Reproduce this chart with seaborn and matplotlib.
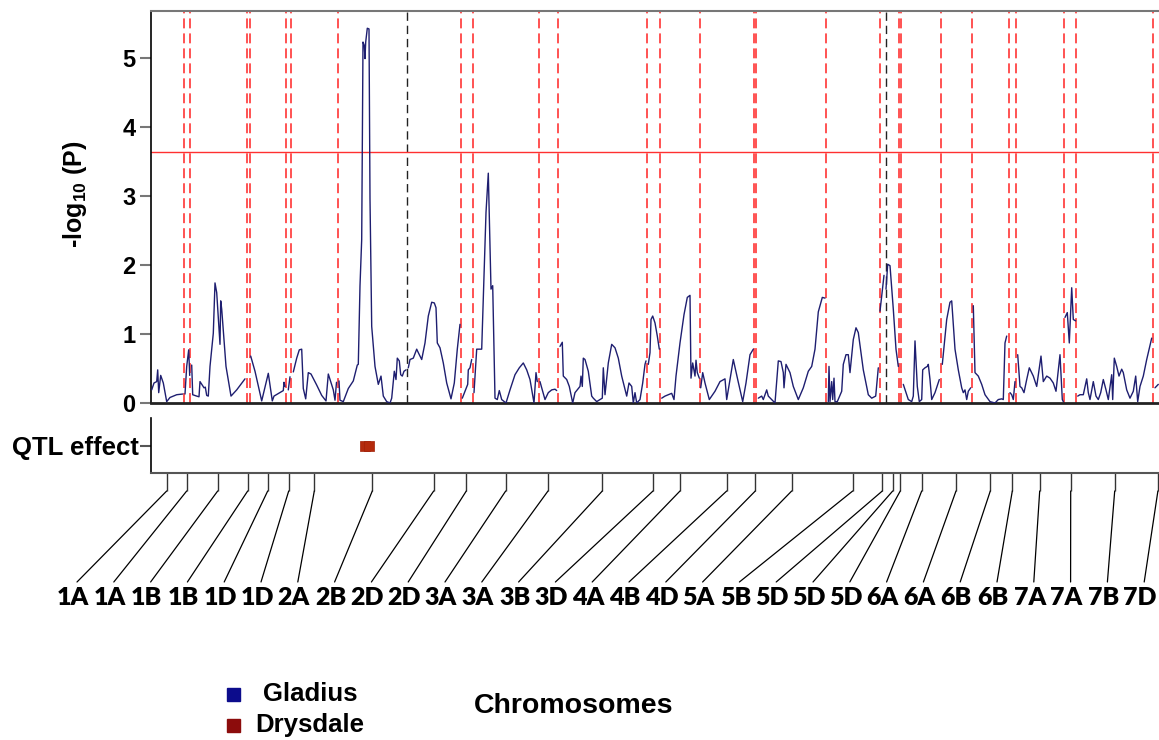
import numpy as np
import pandas as pd
import matplotlib
matplotlib.use("Agg")
import matplotlib.pyplot as plt
import seaborn as sns
from matplotlib.patches import ConnectionPatch, Rectangle
from matplotlib.transforms import blended_transform_factory

# ---------------- data ----------------
positions = [
    0.7, 3.0, 5.7, 6.7, 7.7, 9.7, 12.3, 15.7, 19.0, 25.7, 31.7,
    34.0, 35.7, 37.7, 38.7,
    40.7, 41.7, 45.7, 48.0, 49.0, 51.7, 53.0, 54.3, 55.7, 57.3, 59.0, 62.3, 64.0, 65.7, 69.0, 69.7, 70.7, 75.0, 80.0, 85.7, 94.0,
    99.7, 104.0, 110.7, 117.3, 121.3, 123.0, 132.3, 133.0, 134.0,
    137.3, 139.0,
    142.3, 145.7, 148.3, 150.7, 152.3, 154.7, 157.3, 160.0, 165.7, 170.7, 175.0, 177.3, 182.3, 184.0, 185.5,
    188.0, 189.0, 192.3, 197.3, 202.3, 206.3, 207.3, 209.0, 210.7, 212.0, 213.3, 214.0, 214.7, 216.3, 218.0, 219.0, 220.7,
    224.0, 227.3, 230.0, 232.3, 235.7, 239.0, 240.7, 243.3, 245.0, 246.3, 248.3, 249.7, 251.3, 253.0, 255.0,
    257.3, 259.0, 262.3, 265.7, 267.3, 270.7, 274.0, 277.3, 280.7, 283.3, 285.0, 286.3, 289.0, 292.3, 295.7, 300.0, 303.3, 306.3, 309.0,
    311.3, 314.0, 316.7, 317.3, 319.0, 320.7,
    323.0, 325.7, 330.7, 335.0, 337.3, 340.0, 341.7, 344.0, 346.3, 348.3, 350.7, 355.0, 359.0, 364.0, 368.3, 372.3, 375.7, 379.0, 383.0, 385.0, 386.3,
    389.0, 390.7, 394.0, 397.3, 400.7, 404.0, 405.7,
    409.0, 411.3, 412.3, 415.7, 418.3, 421.7, 424.0, 429.0, 430.0, 431.3, 432.3, 434.0, 437.3, 440.7, 442.3, 445.7, 449.0, 451.3, 452.3, 454.0,
    457.3, 460.7, 464.0, 467.3, 470.7, 475.7, 478.0, 480.7, 482.3, 484.0, 485.7, 489.0, 491.7, 494.0, 495.0,
    497.3, 499.0, 500.0, 501.7, 504.0, 506.3, 508.3,
    510.7, 514.0, 517.3, 520.7, 523.0, 525.0, 529.0, 533.0, 536.3, 539.0, 540.0, 541.7, 544.0, 545.0, 546.3, 548.3,
    549.7, 551.7, 554.0, 558.3, 564.0, 569.0, 574.0, 575.7, 579.0, 582.3, 586.7, 591.7, 595.0, 599.0, 602.3,
    607.3, 610.7, 612.3, 615.7, 617.3, 624.0, 627.3, 630.0, 632.3, 633.0, 635.0, 639.0, 642.3, 647.3, 652.3, 657.3, 660.7, 664.0, 667.3, 671.3, 674.0,
    677.3, 678.0, 679.0, 680.7, 681.7, 683.0, 684.0, 686.3, 690.7, 692.3, 695.0, 697.3, 699.0, 702.3, 705.0, 707.3, 712.3, 717.3, 720.7, 724.7, 727.3,
    729.0, 730.7, 733.0,
    735.0, 736.7, 739.0, 742.3, 745.0, 747.3,
    752.3, 757.3, 760.7, 762.3, 764.0, 766.3, 768.3, 770.7, 771.7, 774.0, 776.3, 777.3, 779.0, 780.7, 784.0, 788.3,
    791.3, 795.7, 799.0, 800.7, 804.0, 807.3, 810.7, 812.3, 814.0, 815.7, 817.3, 819.7,
    822.3, 824.0, 827.3, 830.7, 834.0, 839.0, 844.0, 847.3, 850.7, 852.3, 854.0, 855.7,
    859.0, 860.7, 862.3, 864.0,
    866.7, 869.0, 870.7, 873.0, 875.7, 878.3, 882.3, 885.7, 890.0, 892.3, 895.7, 899.0, 902.3, 905.0, 909.0, 911.3, 912.3,
    914.0, 916.3, 918.3, 920.7, 922.3, 924.7,
    926.7, 929.0, 932.3, 935.7, 937.3, 939.0, 942.3, 945.0, 947.3, 949.7, 952.3, 955.0, 957.3, 960.7, 961.7, 963.3, 965.7,
    968.0, 970.7, 972.3, 975.7, 979.0, 982.3, 984.7, 986.7, 989.0, 992.3, 995.7, 1000.7,
    1004.0, 1007.3,
]
lod = [
    0.19, 0.29, 0.31, 0.48, 0.15, 0.40, 0.29, 0.02, 0.08, 0.12, 0.13,
    0.13, 0.53, 0.77, 0.40,
    0.55, 0.12, 0.10, 0.09, 0.31, 0.25, 0.22, 0.23, 0.11, 0.10, 0.53, 1.01, 1.74, 1.60, 0.85, 1.48, 1.36, 0.53, 0.10, 0.19, 0.35,
    0.68, 0.46, 0.03, 0.43, 0.03, 0.10, 0.18, 0.30, 0.24,
    0.19, 0.38,
    0.45, 0.65, 0.77, 0.78, 0.21, 0.06, 0.44, 0.42, 0.26, 0.11, 0.03, 0.42, 0.19, 0.04, 0.30,
    0.32, 0.04, 0.02, 0.21, 0.32, 0.55, 0.56, 1.70, 2.37, 5.23, 5.18, 4.99, 5.23, 5.43, 5.42, 2.96, 1.11,
    0.53, 0.27, 0.39, 0.10, 0.02, 0.00, 0.07, 0.46, 0.34, 0.65, 0.61, 0.41, 0.39, 0.46, 0.48,
    0.51, 0.63, 0.65, 0.78, 0.73, 0.63, 0.87, 1.26, 1.46, 1.45, 1.38, 0.87, 0.80, 0.58, 0.29, 0.06, 0.29, 0.78, 1.14,
    0.07, 0.17, 0.27, 0.48, 0.51, 0.63,
    0.15, 0.78, 0.78, 2.76, 3.33, 1.65, 1.70, 0.07, 0.05, 0.18, 0.05, 0.00, 0.19, 0.41, 0.51, 0.58, 0.48, 0.34, 0.00, 0.44, 0.31,
    0.31, 0.22, 0.05, 0.15, 0.19, 0.20, 0.18,
    0.82, 0.88, 0.39, 0.34, 0.24, 0.00, 0.15, 0.24, 0.39, 0.24, 0.65, 0.63, 0.46, 0.10, 0.07, 0.02, 0.05, 0.07, 0.51, 0.12,
    0.58, 0.85, 0.80, 0.65, 0.39, 0.10, 0.29, 0.24, 0.00, 0.15, 0.00, 0.05, 0.29, 0.56, 0.61,
    0.56, 0.73, 1.21, 1.26, 1.16, 0.97, 0.78,
    0.07, 0.10, 0.12, 0.14, 0.05, 0.39, 0.87, 1.28, 1.53, 1.56, 0.36, 0.58, 0.39, 0.62, 0.44, 0.36,
    0.22, 0.44, 0.29, 0.05, 0.17, 0.31, 0.35, 0.05, 0.34, 0.63, 0.34, 0.02, 0.29, 0.70, 0.78,
    0.07, 0.10, 0.05, 0.19, 0.10, 0.00, 0.61, 0.60, 0.44, 0.22, 0.56, 0.44, 0.24, 0.05, 0.22, 0.46, 0.53, 0.78, 1.32, 1.53, 1.52,
    0.02, 0.53, 0.02, 0.31, 0.05, 0.36, 0.02, 0.02, 0.17, 0.56, 0.70, 0.70, 0.44, 0.92, 1.09, 1.02, 0.48, 0.12, 0.07, 0.10, 0.51,
    1.33, 1.55, 1.85,
    1.65, 2.01, 1.99, 1.36, 0.78, 0.53,
    0.27, 0.05, 0.02, 0.10, 0.90, 0.24, 0.02, 0.05, 0.48, 0.51, 0.53, 0.56, 0.34, 0.05, 0.15, 0.34,
    0.56, 1.21, 1.46, 1.48, 0.78, 0.48, 0.22, 0.15, 0.19, 0.05, 0.17, 0.22,
    1.41, 0.44, 0.39, 0.27, 0.12, 0.02, 0.00, 0.05, 0.06, 0.05, 0.87, 0.97,
    0.15, 0.12, 0.05, 0.31,
    0.70, 0.24, 0.22, 0.15, 0.34, 0.51, 0.39, 0.24, 0.68, 0.31, 0.39, 0.36, 0.29, 0.17, 0.70, 0.05, 0.02,
    1.24, 1.31, 0.87, 1.67, 1.21, 1.19,
    0.10, 0.12, 0.12, 0.35, 0.15, 0.05, 0.31, 0.10, 0.05, 0.15, 0.34, 0.19, 0.05, 0.41, 0.05, 0.65, 0.53,
    0.39, 0.49, 0.44, 0.19, 0.07, 0.17, 0.39, 0.02, 0.24, 0.39, 0.63, 0.94,
    0.22, 0.27,
]

# chromosome boundaries (red dashed) and the two darker ones
boundaries = [32.7, 39.0, 95.7, 98.7, 135.0, 140.3, 187.0, 256.3, 310.0, 321.7,
              388.0, 406.5, 495.7, 508.5, 549.0, 603.3, 605.0, 675.3, 728.7, 734.5,
              748.0, 750.3, 789.7, 820.7, 857.7, 865.3, 913.3, 925.3, 1002.0]
dark_boundaries = [256.3, 734.5]
threshold = 3.64

qtl_pos = [213.5, 217.5]
qtl_val = [0, 0]

marker_pos = [15.7, 35.7, 66.7, 96.7, 116.7, 137.7, 163.3, 221.3, 282.7, 315.3,
              354.7, 397.0, 451.3, 502.0, 529.0, 575.7, 604.3, 640.7, 701.7, 731.3,
              741.7, 749.3, 770.7, 805.0, 839.3, 861.3, 888.7, 919.7, 963.7, 1006.9]
chrom_labels = ["1A", "1A", "1B", "1B", "1D", "1D", "2A", "2B", "2D", "2D",
                "3A", "3A", "3B", "3D", "4A", "4B", "4D", "5A", "5B", "5D",
                "5D", "5D", "6A", "6A", "6B", "6B", "7A", "7A", "7B", "7D"]
legend_names = ["Gladius", "Drysdale"]
legend_colors = ["#0c0c8c", "#8c0c0c"]

# ---------------- style ----------------
sns.set_theme(style="white")
plt.rcParams["font.family"] = ["Liberation Sans", "DejaVu Sans"]
plt.rcParams["mathtext.fontset"] = "custom"
plt.rcParams["mathtext.rm"] = "Liberation Sans:bold"
plt.rcParams["mathtext.bf"] = "Liberation Sans:bold"
plt.rcParams["mathtext.it"] = "Liberation Sans:bold"
plt.rcParams["text.color"] = "black"
plt.rcParams["axes.labelcolor"] = "black"
plt.rcParams["xtick.labelcolor"] = "black"
plt.rcParams["ytick.labelcolor"] = "black"

W, H = 1159, 740
fig = plt.figure(figsize=(W / 100, H / 100), dpi=100)
fig.patch.set_facecolor("white")

XMAX = 1009

# ---------------- main LOD panel ----------------
ax = fig.add_axes([151 / W, 1 - 403 / H, 1009 / W, 392 / H])
df = pd.DataFrame({"pos": positions, "lod": lod})
df["seg"] = np.searchsorted(np.array(boundaries), df["pos"].values)

for b in boundaries:
    if b in dark_boundaries:
        ax.axvline(b, color="#222222", lw=1.0, ls=(0, (6, 3.5)), zorder=1)
    else:
        ax.axvline(b, color="#ff4444", lw=1.3, ls=(0, (5.5, 2.8)), zorder=1)
ax.axhline(threshold, color="#ff3030", lw=1.0, zorder=1)

sns.lineplot(data=df, x="pos", y="lod", units="seg", estimator=None, sort=False,
             color="#1e1e70", lw=1.0, ax=ax, legend=False, zorder=3)

ax.set_xlim(0, XMAX)
ax.set_ylim(0, 5.68)
ax.set_xticks([])
ax.set_yticks(range(6))
ax.set_xlabel("")
ax.set_ylabel("")
ax.tick_params(axis="y", direction="out", length=8, width=1.5, color="#777777",
               labelsize=17, pad=3, left=True, labelcolor="black")
for t in ax.get_yticklabels():
    t.set_fontweight("bold")
ax.spines["right"].set_visible(False)
ax.spines["top"].set_color("#777777")
ax.spines["top"].set_linewidth(1.5)
ax.spines["left"].set_color("black")
ax.spines["left"].set_linewidth(1.2)
ax.spines["bottom"].set_color("#222222")
ax.spines["bottom"].set_linewidth(2.0)

fig.text(75 / W, 1 - 194 / H, r"-log$_{10}$ (P)", rotation=90, ha="center", va="center",
         fontsize=18, fontweight="bold", color="black")

# ---------------- QTL effect panel ----------------
axq = fig.add_axes([151 / W, 1 - 473 / H, 1009 / W, 55 / H])
sns.scatterplot(x=qtl_pos, y=qtl_val, marker="s", s=48, color="#b42a0c",
                edgecolor="#a02008", linewidth=0.5, ax=axq, legend=False)
axq.set_xlim(0, XMAX)
axq.set_ylim(-1, 1)
axq.set_yticks([0])
axq.set_yticklabels(["QTL effect"], fontsize=18.5, fontweight="bold", color="black")
axq.set_xticks(marker_pos)
axq.set_xticklabels([])
axq.tick_params(axis="y", direction="out", length=8, width=1.5, color="#555555", pad=1, left=True)
axq.tick_params(axis="x", direction="out", length=13, width=1.0, color="#333333", bottom=True)
for s in ["top", "right"]:
    axq.spines[s].set_visible(False)
axq.spines["left"].set_color("black")
axq.spines["left"].set_linewidth(1.2)
axq.spines["bottom"].set_color("#555555")
axq.spines["bottom"].set_linewidth(1.5)

# connector lines + chromosome labels
blend = blended_transform_factory(axq.transData, axq.transAxes)
label_x0, label_step = 73, 36.8
for i, (p, lab) in enumerate(zip(marker_pos, chrom_labels)):
    lx = (label_x0 + i * label_step) / W
    fig.text(lx, 1 - 598 / H, lab, ha="center", va="center", fontsize=18,
             fontweight="heavy", family=["Lato", "DejaVu Sans"], color="black")
    con = ConnectionPatch(xyA=(p, -18 / 55), coordsA=blend,
                          xyB=(lx + 4 / W, 1 - 582 / H), coordsB=fig.transFigure,
                          color="black", lw=0.9)
    fig.add_artist(con)

# ---------------- legend / axis title ----------------
for j, (name, col) in enumerate(zip(legend_names, legend_colors)):
    yc = 694 + j * 31
    fig.add_artist(Rectangle((227 / W, 1 - (yc + 6.5) / H), 13 / W, 13 / H,
                             transform=fig.transFigure, facecolor=col, edgecolor=col))
    fig.text(310 / W, 1 - yc / H, name, ha="center", va="center", fontsize=18.5,
             fontweight="bold", color="black")

fig.text(574 / W, 1 - 706 / H, "Chromosomes", ha="center", va="center",
         fontsize=20.5, fontweight="bold", color="black")

fig.savefig("out.png", dpi=100)
